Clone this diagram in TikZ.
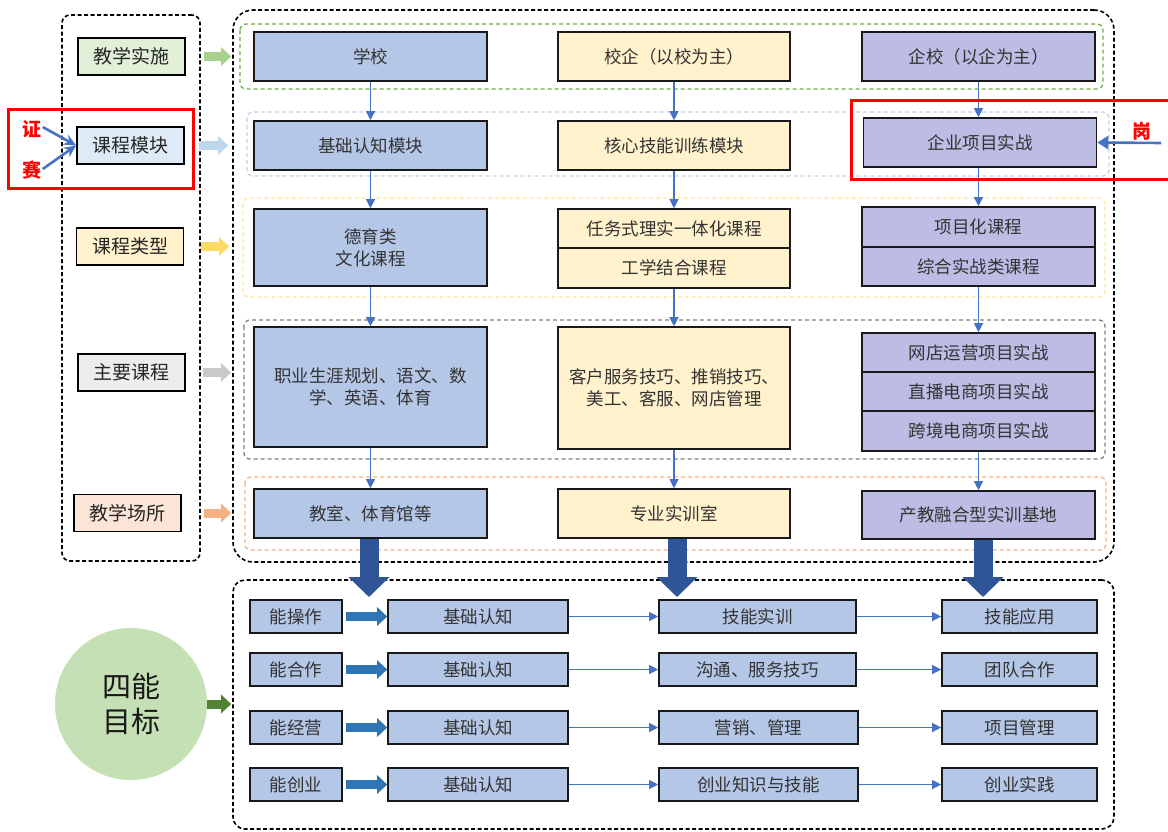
\documentclass[tikz,border=0pt]{standalone}
\usepackage{fontspec}
\setmainfont{Noto Sans CJK SC}
\usetikzlibrary{arrows.meta,calc}
\definecolor{colA}{HTML}{B4C7E7}
\definecolor{colB}{HTML}{FFF2CC}
\definecolor{colC}{HTML}{BCBCE4}
\definecolor{lgreen}{HTML}{E2F0D9}
\definecolor{lblue}{HTML}{DEEBF7}
\definecolor{lyellow}{HTML}{FFF2CC}
\definecolor{lgray}{HTML}{EDEDED}
\definecolor{lpeach}{HTML}{FBE5D6}
\definecolor{agreen}{HTML}{A9D18E}
\definecolor{ablue}{HTML}{BDD7EE}
\definecolor{ayellow}{HTML}{FFD966}
\definecolor{agray}{HTML}{C9C9C9}
\definecolor{apeach}{HTML}{F4B183}
\definecolor{gGreen}{HTML}{70AD47}
\definecolor{gBlue}{HTML}{C0D3EA}
\definecolor{gYellow}{HTML}{FFE699}
\definecolor{gGray}{HTML}{7F7F7F}
\definecolor{gPeach}{HTML}{F4B183}
\definecolor{thinblue}{HTML}{4472C4}
\definecolor{bigblue}{HTML}{2F5597}
\definecolor{fatblue}{HTML}{2E75B6}
\definecolor{dgreen}{HTML}{548235}
\definecolor{circg}{HTML}{C5E0B4}
\definecolor{txt}{HTML}{333333}
\begin{document}
\begin{tikzpicture}[x=1pt,y=-1pt,
  outerbox/.style={draw=black, line width=1.6pt, dash pattern=on 4pt off 2.5pt, inner sep=0pt},
  grp/.style={line width=1.3pt, dash pattern=on 4pt off 3pt, rounded corners=6pt},
  lab/.style={draw=black, line width=1.8pt, minimum width=107pt, minimum height=37pt, inner sep=0pt, text=black!85, font=\fontsize{19}{22}\selectfont},
  cbox/.style={draw=black!90, line width=1.6pt, inner sep=0pt, align=center, text=txt, font=\fontsize{17.5}{22}\selectfont},
  bbox/.style={draw=black!90, line width=1.6pt, inner sep=0pt, minimum height=33pt, text=txt, fill=colA, font=\fontsize{17.5}{21}\selectfont},
  thinarr/.style={draw=thinblue, line width=1.2pt, -{Triangle[length=9pt,width=9pt]}},
  fatarr/.style={line width=9pt, -{Triangle[length=10pt,width=18pt]}},
  bigarr/.style={draw=bigblue, line width=19pt, -{Triangle[length=20pt,width=40pt]}},
  redtxt/.style={text=red, font=\fontsize{19}{20}\selectfont\bfseries, inner sep=0pt},
  redarr/.style={draw=thinblue, line width=2.6pt, -{Stealth[length=12pt,width=11pt]}}
]
\useasboundingbox (0,0) rectangle (1168,831);

% outer dashed frames
\node[outerbox, rounded corners=8pt, minimum width=138pt, minimum height=546pt] (left) at (131,288) {};
\node[outerbox, rounded corners=20pt, minimum width=881pt, minimum height=552pt] (main) at (673.5,286) {};
\node[outerbox, rounded corners=12pt, minimum width=881pt, minimum height=249pt] (bottom) at (673.5,704.5) {};

% inner groups
\draw[grp, draw=gGreen] (240,24) rectangle (1103,89);
\draw[grp, draw=gBlue] (247,112) rectangle (1109,176);
\draw[grp, draw=gYellow] (243,198) rectangle (1105,297);
\draw[grp, draw=gGray] (244,320) rectangle (1105,459);
\draw[grp, draw=gPeach] (245,477) rectangle (1106,550);

% left labels
\node[lab, fill=lgreen] (l1) at (131.5,56.5) {教学实施};
\node[lab, fill=lblue] (l2) at (130.5,145.5) {课程模块};
\node[lab, fill=lyellow] (l3) at (130,246.5) {课程类型};
\node[lab, fill=lgray] (l4) at (131.5,372.5) {主要课程};
\node[lab, fill=lpeach] (l5) at (127.5,513) {教学场所};

% column 1
\node[cbox, fill=colA, minimum width=233pt, minimum height=49pt] (a1) at (370.5,56.5) {学校};
\node[cbox, fill=colA, minimum width=233pt, minimum height=49pt] (a2) at (370.5,145.5) {基础认知模块};
\node[cbox, fill=colA, minimum width=233pt, minimum height=77pt] (a3) at (370.5,247.5) {德育类\\文化课程};
\node[cbox, fill=colA, minimum width=233pt, minimum height=120pt] (a4) at (370.5,387) {职业生涯规划、语文、数\\学、英语、体育};
\node[cbox, fill=colA, minimum width=233pt, minimum height=49pt] (a5) at (370.5,513.5) {教室、体育馆等};

% column 2
\node[cbox, fill=colB, minimum width=232pt, minimum height=49pt] (b1) at (674,56.5) {校企（以校为主）};
\node[cbox, fill=colB, minimum width=232pt, minimum height=49pt] (b2) at (674,145.5) {核心技能训练模块};
\node[cbox, fill=colB, minimum width=232pt, minimum height=39pt] (b3a) at (674,228.5) {任务式理实一体化课程};
\node[cbox, fill=colB, minimum width=232pt, minimum height=40pt] (b3b) at (674,268) {工学结合课程};
\node[cbox, fill=colB, minimum width=232pt, minimum height=122pt] (b4) at (674,388) {客户服务技巧、推销技巧、\\美工、客服、网店管理};
\node[cbox, fill=colB, minimum width=232pt, minimum height=49pt] (b5) at (674,513.5) {专业实训室};

% column 3
\node[cbox, fill=colC, minimum width=233pt, minimum height=49pt] (c1) at (978.5,56.5) {企校（以企为主）};
\node[cbox, fill=colC, minimum width=233pt, minimum height=49pt] (c2) at (980,142.5) {企业项目实战};
\node[cbox, fill=colC, minimum width=233pt, minimum height=40pt] (c3a) at (978.5,227) {项目化课程};
\node[cbox, fill=colC, minimum width=233pt, minimum height=39pt] (c3b) at (978.5,266.5) {综合实战类课程};
\node[cbox, fill=colC, minimum width=233pt, minimum height=39pt] (c4a) at (978.5,352.5) {网店运营项目实战};
\node[cbox, fill=colC, minimum width=233pt, minimum height=39pt] (c4b) at (978.5,391.5) {直播电商项目实战};
\node[cbox, fill=colC, minimum width=233pt, minimum height=40pt] (c4c) at (978.5,431) {跨境电商项目实战};
\node[cbox, fill=colC, minimum width=233pt, minimum height=48pt] (c5) at (978.5,515) {产教融合型实训基地};

% vertical thin arrows
\draw[thinarr] (a1.south) -- (a2.north);
\draw[thinarr] (a2.south) -- (a3.north);
\draw[thinarr] (a3.south) -- (a4.north);
\draw[thinarr] (a4.south) -- (a5.north);
\draw[thinarr] (b1.south) -- (b2.north);
\draw[thinarr] (b2.south) -- (b3a.north);
\draw[thinarr] (b3b.south) -- (b4.north);
\draw[thinarr] (b4.south) -- (b5.north);
\draw[thinarr] (c1.south) -- (c1.south |- c2.north);
\draw[thinarr] (c2.south -| c1.south) -- (c3a.north);
\draw[thinarr] (c3b.south) -- (c4a.north);
\draw[thinarr] (c4c.south) -- (c5.north);

% left label arrows
\draw[fatarr, draw=agreen] ([xshift=18pt]l1.east) -- ([xshift=-1pt]main.west |- l1.east);
\draw[fatarr, draw=ablue] ([xshift=14pt]l2.east) -- ([xshift=-4pt]main.west |- l2.east);
\draw[fatarr, draw=ayellow] ([xshift=17pt]l3.east) -- ([xshift=-3pt]main.west |- l3.east);
\draw[fatarr, draw=agray] ([xshift=17pt]l4.east) -- ([xshift=-1pt]main.west |- l4.east);
\draw[fatarr, draw=apeach] ([xshift=22pt]l5.east) -- ([xshift=-1pt]main.west |- l5.east);

% red highlight boxes and labels
\draw[red, line width=3pt] (8,109) rectangle (193,188);
\draw[red, line width=3pt] (1180,100) -- (851,100) -- (851,179) -- (1180,179);
\node[redtxt] (zheng) at (32,129) {证};
\node[redtxt] (sai) at (32,170) {赛};
\node[redtxt] (gang) at (1142,131) {岗};
\coordinate (gangstart) at (1161,143);
\draw[redarr] ([xshift=1pt,yshift=2pt]zheng.east) -- (l2.west);
\draw[redarr] ([xshift=1pt,yshift=1pt]sai.east) -- (l2.west);
\draw[redarr, -{Triangle[length=11pt,width=13pt]}] (gangstart) -- (c2.east);

% big down arrows
\coordinate (t1) at (369,597);
\coordinate (t2) at (677,597);
\coordinate (t3) at (983,597);
\draw[bigarr] (a5.south -| t1) -- (t1);
\draw[bigarr] (b5.south -| t2) -- (t2);
\draw[bigarr] (c5.south -| t3) -- (t3);

% goal circle
\node[circle, fill=circg, minimum size=152pt, inner sep=0pt, align=center, text=black!90, font=\fontsize{29}{35}\selectfont] (goal) at (131,704) {四能\\目标};
\draw[fatarr, draw=dgreen] (goal.east) -- ([xshift=-1pt]bottom.west |- goal.east);

% bottom rows
\node[bbox, minimum width=92pt] (n1) at (296,616.5) {能操作};
\node[bbox, minimum width=180pt] (k1) at (478,616.5) {基础认知};
\node[bbox, minimum width=197pt] (m1) at (757.5,616.5) {技能实训};
\node[bbox, minimum width=155pt] (r1) at (1019.5,616.5) {技能应用};

\node[bbox, minimum width=92pt] (n2) at (296,669.5) {能合作};
\node[bbox, minimum width=180pt] (k2) at (478,669.5) {基础认知};
\node[bbox, minimum width=197pt] (m2) at (757.5,669.5) {沟通、服务技巧};
\node[bbox, minimum width=155pt] (r2) at (1019.5,669.5) {团队合作};

\node[bbox, minimum width=92pt] (n3) at (296,727.5) {能经营};
\node[bbox, minimum width=180pt] (k3) at (478,727.5) {基础认知};
\node[bbox, minimum width=199pt] (m3) at (758.5,727.5) {营销、管理};
\node[bbox, minimum width=155pt] (r3) at (1019.5,727.5) {项目管理};

\node[bbox, minimum width=92pt] (n4) at (296,784.5) {能创业};
\node[bbox, minimum width=180pt] (k4) at (478,784.5) {基础认知};
\node[bbox, minimum width=199pt] (m4) at (758.5,784.5) {创业知识与技能};
\node[bbox, minimum width=155pt] (r4) at (1019.5,784.5) {创业实践};

\foreach \i in {1,2,3,4}{
  \draw[fatarr, draw=fatblue] ([xshift=3pt]n\i.east) -- (k\i.west);
  \draw[thinarr] (k\i.east) -- (m\i.west);
  \draw[thinarr] (m\i.east) -- (r\i.west);
}
\end{tikzpicture}
\end{document}
